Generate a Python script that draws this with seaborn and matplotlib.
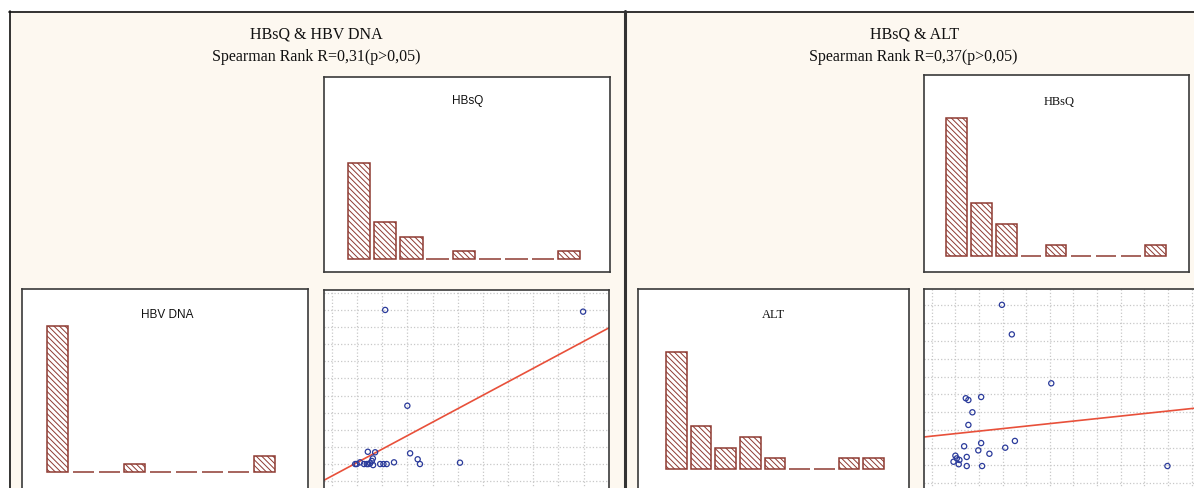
import numpy as np
import pandas as pd
import matplotlib.pyplot as plt
from matplotlib.patches import Rectangle
from matplotlib.lines import Line2D
import seaborn as sns

# histogram bins and counts (9 classes)
bins = [1, 2, 3, 4, 5, 6, 7, 8, 9]
hbsq_counts = [13, 5, 3, 0, 1, 0, 0, 0, 1]
hbv_dna_counts = [19, 0, 0, 1, 0, 0, 0, 0, 2]
alt_counts = [11, 4, 2, 3, 1, 0, 0, 1, 1]

# scatter HBsQ & HBV DNA (grid units)
dna_x = [2.12, 9.98, 3.00, 1.43, 1.72, 3.11, 3.41, 3.50, 5.09, 2.47, 2.18, 2.05,
         1.92, 1.59, 1.52, 1.45, 1.39, 1.12, 0.99, 0.93, 1.63, 1.64, 1.28]
dna_y = [10.02, 9.92, 4.40, 1.70, 1.67, 1.61, 1.26, 0.98, 1.06, 1.08, 0.98, 0.98,
         0.98, 1.16, 1.02, 0.98, 0.98, 1.08, 0.98, 0.98, 1.31, 0.92, 0.98]
dna_fit = [0.275, 0.79]   # intercept, slope

# scatter HBsQ & ALT (grid units)
alt_x = [2.97, 3.39, 5.06, 1.44, 1.55, 2.09, 1.72, 1.55, 2.09, 1.37, 3.52, 3.11,
         1.97, 2.44, 1.48, 1.00, 1.06, 1.17, 0.92, 1.14, 1.48, 2.13, 9.98]
alt_y = [10.03, 8.37, 5.62, 4.78, 4.68, 4.85, 3.99, 3.28, 2.26, 2.08, 2.38, 2.00,
         1.85, 1.66, 1.48, 1.55, 1.40, 1.31, 1.21, 1.07, 0.97, 0.97, 0.97]
alt_fit = [2.65, 0.141]

W, H = 1194, 488
cream = '#fdf8f0'
bar_col = '#8e3a32'
pt_col = '#2b3b9b'
line_col = '#e8503a'

sns.set_style('white')
plt.rcParams['hatch.linewidth'] = 0.7
plt.rcParams['font.family'] = ['Liberation Sans', 'DejaVu Sans']

fig = plt.figure(figsize=(W / 100, H / 100), dpi=100, facecolor='white')

# panel background and borders
fig.add_artist(Rectangle((9 / W, 0), 1 - 9 / W, (H - 11) / H, transform=fig.transFigure,
                         facecolor=cream, edgecolor='none', zorder=-10))
fig.add_artist(Line2D([9 / W, 1], [1 - 11.5 / H, 1 - 11.5 / H], color='#111111', lw=1.2))
fig.add_artist(Line2D([9.5 / W, 9.5 / W], [0, 1 - 11 / H], color='#111111', lw=1.2))
fig.add_artist(Line2D([624.5 / W, 624.5 / W], [0, 1 - 11 / H], color='#333333', lw=2.2))


def box(x0, y0, x1, y1):
    ax = fig.add_axes([x0 / W, 1 - y1 / H, (x1 - x0) / W, (y1 - y0) / H])
    ax.set_facecolor('white')
    for s in ax.spines.values():
        s.set_visible(True)
        s.set_color('#3a3a3a')
        s.set_linewidth(1.2)
    return ax


def hist(ax, counts, width, xlim, ylim):
    df = pd.DataFrame({'bin': [str(b) for b in bins], 'n': counts})
    sns.barplot(data=df, x='bin', y='n', ax=ax, color='white', saturation=1,
                edgecolor=bar_col, linewidth=1.1, hatch='\\\\\\\\\\\\',
                width=width, errorbar=None)
    ax.set_xlim(*xlim)
    ax.set_ylim(*ylim)
    ax.set_xlabel('')
    ax.set_ylabel('')
    ax.set_xticks([])
    ax.set_yticks([])


def scatter(ax, x, y, fit, xlim, ylim, ny):
    sns.scatterplot(x=x, y=y, ax=ax, marker='o', s=14, facecolor='none',
                    edgecolor=pt_col, linewidth=0.9, zorder=3)
    for c in ax.collections:
        c.set_facecolor('none')
    xs = np.array(xlim)
    sns.lineplot(x=xs, y=fit[0] + fit[1] * xs, ax=ax, color=line_col, lw=1.2, zorder=2)
    ax.set_xlim(*xlim)
    ax.set_ylim(*ylim)
    ax.set_xticks(range(0, 12))
    ax.set_yticks(range(0, ny))
    ax.grid(True, linestyle=':', color='#c8c8c8', linewidth=0.9)
    ax.tick_params(length=0, labelbottom=False, labelleft=False)


# left panel
ax1 = box(324, 76.7, 610, 271.7)
hist(ax1, hbsq_counts, 0.85, (-1.32, 9.55), (-1.77, 24.8))
ax2 = box(21.7, 289, 308.3, 492)
hist(ax2, hbv_dna_counts, 0.81, (-1.37, 9.69), (-2.64, 23.8))
ax3 = box(324, 290, 609.3, 492)
scatter(ax3, dna_x, dna_y, dna_fit, (-0.31, 11.02), (-0.66, 11.19), 12)

# right panel
ax4 = box(924, 75, 1189.3, 272.3)
hist(ax4, hbsq_counts, 0.82, (-1.31, 9.35), (-1.54, 17.08))
ax5 = box(638.3, 289, 908.7, 492)
hist(ax5, alt_counts, 0.83, (-1.54, 9.42), (-2.16, 16.9))
ax6 = box(924, 289, 1196, 492)
scatter(ax6, alt_x, alt_y, alt_fit, (-0.33, 11.19), (-0.49, 10.92), 11)

serif = ['Liberation Serif', 'DejaVu Serif']
sans = ['Liberation Sans', 'DejaVu Sans']


def put(x, y, s, size, family):
    fig.text(x / W, 1 - y / H, s, ha='center', va='baseline', fontsize=size,
             family=family, color='#111111')


put(316, 38.5, 'HBsQ & HBV DNA', 11.5, serif)
put(316, 61, 'Spearman Rank R=0,31(p>0,05)', 11.5, serif)
put(915, 38.5, 'HBsQ & ALT', 11.5, serif)
put(913, 61, 'Spearman Rank R=0,37(p>0,05)', 11.5, serif)

put(467.5, 104.3, 'HBsQ', 8.5, sans)
put(167, 317.7, 'HBV DNA', 8.5, sans)
put(1059.5, 105, 'HBsQ', 9, serif)
put(773.5, 318.3, 'ALT', 9, serif)

fig.savefig('out.png', dpi=100, facecolor='white')
